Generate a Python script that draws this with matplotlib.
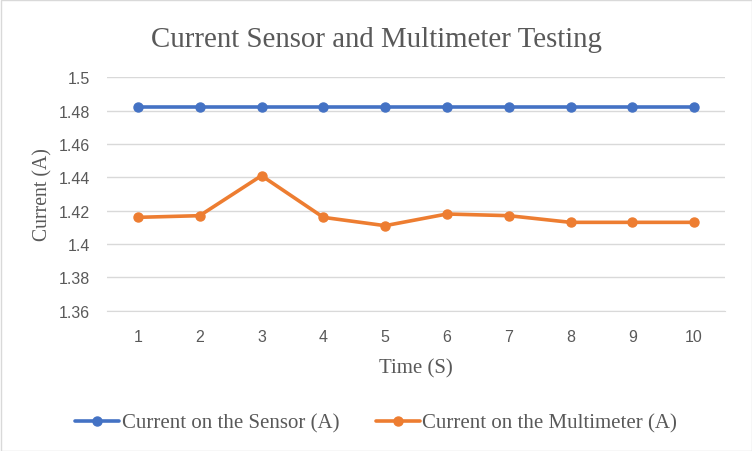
import matplotlib.pyplot as plt
from matplotlib.patches import Rectangle

# data
time_s = [1, 2, 3, 4, 5, 6, 7, 8, 9, 10]
sensor_a = [1.482, 1.482, 1.482, 1.482, 1.482, 1.482, 1.482, 1.482, 1.482, 1.482]
meter_a = [1.416, 1.417, 1.441, 1.416, 1.411, 1.418, 1.417, 1.413, 1.413, 1.413]
y_ticks = [1.36, 1.38, 1.40, 1.42, 1.44, 1.46, 1.48, 1.50]
y_labels = ['1.36', '1.38', '1.4', '1.42', '1.44', '1.46', '1.48', '1.5']

serif = 'Liberation Serif'
sans = 'Liberation Sans'
txt = '#595959'

fig = plt.figure(figsize=(7.52, 4.52), dpi=100)
fig.patches.append(Rectangle((0.5/752, 0.5/452), 1-1/752, 1-1/452, transform=fig.transFigure,
                             fill=False, edgecolor='#d9d9d9', linewidth=1))
ax = fig.add_axes([107/752, 1-311.7/452, 618/752, (311.7-78.3)/452])

ax.plot(time_s, sensor_a, color='#4472C4', lw=2.6, marker='o', ms=6.5,
        label='Current on the Sensor (A)', solid_capstyle='round', zorder=3)
ax.plot(time_s, meter_a, color='#ED7D31', lw=2.6, marker='o', ms=6.5,
        label='Current on the Multimeter (A)', solid_capstyle='round', zorder=3)

ax.set_xlim(0.5, 10.5)
ax.set_ylim(1.36, 1.50)
ax.set_xticks(time_s)
ax.set_yticks(y_ticks)
ax.set_yticklabels(y_labels)
ax.grid(axis='y', color='#d9d9d9', lw=1)
ax.tick_params(length=0, labelsize=11.5, colors=txt)
ax.tick_params(axis='y', pad=12)
ax.tick_params(axis='x', pad=13)
for lab in ax.get_xticklabels() + ax.get_yticklabels():
    lab.set_family(sans)
for s in ['top', 'right', 'left']:
    ax.spines[s].set_visible(False)
ax.spines['bottom'].set_color('#d9d9d9')

ax.set_xlabel('Time (S)', family=serif, fontsize=15, color=txt, va='center')
ax.set_ylabel('Current (A)', family=serif, fontsize=14.2, color=txt, va='center')
ax.xaxis.set_label_coords(0.5, -(369-311.7)/233.4)
ax.yaxis.set_label_coords((43-107)/618, 0.5)
fig.text(0.5, 1-40/452, 'Current Sensor and Multimeter Testing', family=serif,
         fontsize=20.8, color=txt, ha='center', va='center')

fig.legend(loc='center', bbox_to_anchor=(0.5, 1-424/452), ncol=2, frameon=False,
           prop={'family': serif, 'size': 15}, labelcolor=txt,
           handlelength=2.15, handletextpad=0.1, columnspacing=1.75)

plt.savefig('out.png', dpi=100)
